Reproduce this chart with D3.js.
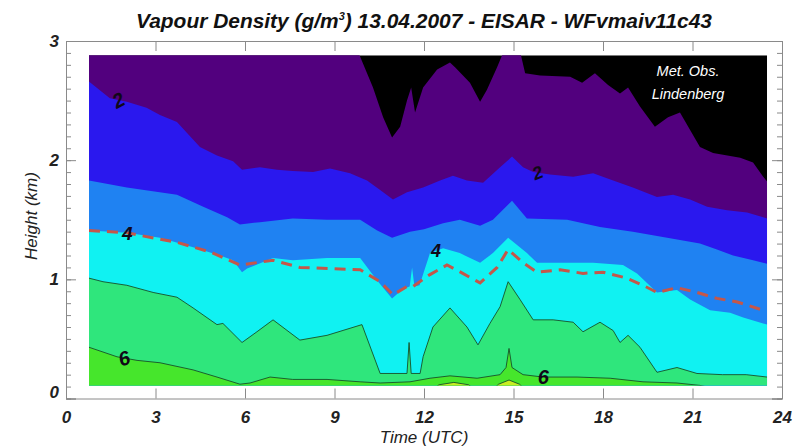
<!DOCTYPE html>
<html>
<head>
<meta charset="utf-8">
<script src="https://cdn.jsdelivr.net/npm/d3@7"></script>
<style>
  html, body { margin: 0; padding: 0; background: #fff; }
  svg { display: block; }
  .narrow { font-family: "Liberation Sans Narrow", "Arial Narrow", "Liberation Sans", sans-serif; }
</style>
</head>
<body>
<svg id="chart" width="800" height="446"></svg>
<script>
// Vapour density contours, time (UTC) vs height (km).
// Each contour is given as [time h, height km] pairs where the density equals its level.
const levels = [1, 2, 3, 4, 5, 6, 7];

const contour1 = [[0.77,3.05],[9.6,3.05],[9.79,2.91],[10.29,2.61],[10.63,2.36],[10.93,2.19],[11.2,2.28],[11.43,2.50],[11.57,2.61],[11.70,2.40],[11.97,2.61],[12.44,2.76],[12.87,2.82],[13.04,2.78],[13.54,2.65],[13.88,2.49],[14.11,2.59],[14.45,2.78],[14.65,2.9],[14.8,3.0],[15.1,3.0],[15.25,2.88],[15.39,2.73],[15.89,2.71],[16.9,2.70],[17.3,2.65],[17.73,2.73],[18.17,2.63],[18.57,2.56],[18.84,2.61],[19.24,2.45],[19.74,2.28],[20.18,2.36],[20.58,2.40],[21.25,2.11],[21.69,2.06],[22.6,2.02],[23.03,1.98],[23.37,1.86],[23.5,1.82]];

const contour2 = [[0.77,2.66],[1.47,2.52],[2.04,2.49],[2.7,2.44],[3.15,2.38],[3.72,2.32],[4.05,2.23],[4.49,2.11],[5.06,2.04],[5.6,1.99],[5.9,1.92],[6.5,1.94],[7.07,1.92],[7.6,1.91],[8.28,1.90],[8.85,1.93],[9.52,1.89],[10.09,1.83],[10.53,1.75],[10.96,1.67],[11.43,1.73],[11.97,1.77],[12.54,1.83],[12.97,1.87],[13.44,1.83],[13.98,1.81],[14.55,1.94],[14.95,2.03],[15.32,1.94],[15.66,1.90],[16.22,1.88],[17.0,1.86],[17.67,1.89],[18.34,1.83],[19.0,1.77],[19.81,1.69],[20.35,1.71],[20.92,1.67],[21.49,1.61],[22.16,1.58],[22.83,1.56],[23.37,1.52],[23.5,1.51]];

const contour3 = [[0.77,1.83],[2.04,1.77],[3.72,1.71],[4.6,1.61],[5.4,1.52],[5.83,1.46],[6.5,1.48],[7.6,1.51],[8.75,1.50],[9.86,1.50],[10.43,1.41],[10.93,1.35],[11.53,1.40],[12.0,1.42],[12.64,1.47],[13.2,1.50],[13.88,1.45],[14.31,1.50],[14.95,1.66],[15.45,1.51],[16.8,1.50],[17.9,1.44],[19.0,1.40],[20.15,1.35],[21.25,1.30],[21.82,1.25],[22.36,1.20],[23.03,1.16],[23.5,1.13]];

const contour4 = [[0.77,1.41],[2.04,1.39],[3.15,1.35],[4.26,1.27],[5.16,1.20],[5.6,1.16],[5.9,1.06],[6.07,1.09],[6.94,1.18],[7.6,1.16],[8.75,1.18],[9.86,1.18],[10.43,0.99],[10.93,0.84],[11.3,0.92],[11.52,0.94],[11.6,1.10],[11.68,0.94],[11.85,0.95],[12.2,1.22],[12.64,1.26],[13.2,1.22],[13.88,1.14],[14.31,1.22],[14.82,1.35],[15.45,1.22],[15.79,1.14],[16.56,1.14],[17.67,1.14],[18.67,1.12],[19.14,1.05],[19.81,0.89],[20.48,0.91],[20.92,0.83],[21.59,0.74],[22.26,0.72],[22.7,0.68],[23.37,0.63],[23.5,0.62]];

const contour5 = [[0.77,1.01],[1.24,0.98],[2.04,0.95],[2.92,0.89],[3.72,0.85],[4.26,0.76],[5.06,0.62],[5.26,0.63],[5.9,0.47],[6.4,0.56],[6.94,0.66],[7.84,0.49],[8.75,0.53],[9.92,0.62],[10.53,0.21],[11.43,0.21],[11.5,0.47],[11.57,0.21],[11.87,0.21],[11.97,0.35],[12.3,0.60],[12.87,0.76],[13.44,0.60],[13.81,0.45],[14.21,0.63],[14.55,0.77],[14.82,0.98],[15.22,0.83],[15.66,0.66],[16.33,0.66],[17.0,0.64],[17.33,0.56],[17.9,0.64],[18.34,0.57],[18.57,0.47],[18.84,0.53],[19.24,0.43],[19.81,0.22],[20.48,0.26],[21.15,0.21],[22.0,0.20],[22.8,0.20],[23.5,0.18]];

const contour6 = [[0.77,0.43],[1.24,0.39],[1.71,0.35],[2.38,0.32],[3.15,0.30],[4.26,0.24],[5.06,0.18],[5.83,0.12],[6.17,0.13],[6.84,0.18],[7.6,0.16],[8.75,0.16],[9.86,0.14],[10.53,0.13],[11.53,0.14],[12.2,0.17],[12.87,0.19],[13.78,0.17],[14.55,0.20],[14.75,0.26],[14.85,0.42],[14.95,0.26],[15.32,0.20],[15.99,0.18],[17.13,0.18],[18.24,0.17],[19.34,0.14],[20.48,0.13],[21.25,0.11],[21.6,0.09],[23.5,0.08]];

const contour7 = [[0.77,0.05],[12.2,0.05],[12.5,0.115],[13.0,0.135],[13.5,0.115],[13.8,0.05],[14.2,0.05],[14.5,0.12],[14.85,0.155],[15.2,0.12],[15.5,0.05],[23.5,0.05]];

// Mixing-layer height (km)
const mixingHeight = [[0.77,1.41],[2.04,1.39],[3.72,1.31],[4.83,1.23],[5.83,1.12],[6.94,1.16],[7.84,1.10],[8.95,1.09],[9.86,1.08],[10.53,0.98],[10.96,0.87],[11.43,0.94],[11.63,0.94],[12.2,1.04],[12.77,1.12],[13.3,1.05],[13.88,0.97],[14.45,1.10],[14.82,1.25],[15.32,1.14],[15.79,1.06],[16.56,1.08],[17.33,1.05],[18.0,1.06],[18.8,1.01],[19.34,0.95],[19.81,0.89],[20.48,0.93],[21.15,0.89],[21.82,0.84],[22.5,0.81],[23.37,0.74]];

// Observed window
const timeRange = [0.77, 23.5];
const heightRange = [0.11, 2.88];

// Contour labels: level and the time at which it is written on its line
const contourLabels = [
  { level: 2, time: 1.75, angle: -28, size: 20 },
  { level: 2, time: 15.8, angle: -22, size: 18 },
  { level: 4, time: 2.05, angle: 0, size: 19 },
  { level: 4, time: 12.4, angle: 0, size: 18 },
  { level: 6, time: 1.95, angle: -18, size: 20 },
  { level: 6, time: 16.0, angle: 0, size: 20 }
];

const xTicks = [0, 3, 6, 9, 12, 15, 18, 21, 24];
const yTicks = [0, 1, 2, 3];
const yMinorTicks = d3.range(0, 3.001, 0.1).map(v => +v.toFixed(1));

const titleMain = "Vapour Density (g/m";
const titleSup = "3";
const titleRest = ") 13.04.2007 - EISAR - WFvmaiv11c43";
const stationLines = ["Met. Obs.", "Lindenberg"];

// Fill colours for the region below each contour (denser side), plus the < 1 region
const belowColor = "#000000";
const levelColors = ["#52007e", "#2a18ee", "#1f82f2", "#10f2f2", "#2fe67c", "#46e62c", "#c6ee22"];

const contours = [contour1, contour2, contour3, contour4, contour5, contour6, contour7];

const svg = d3.select("#chart");
const x = d3.scaleLinear().domain([0, 24]).range([66, 782]);
const y = d3.scaleLinear().domain([0, 3]).range([398.5, 41]);

// Clip to the observed window
svg.append("defs").append("clipPath").attr("id", "obs")
  .append("rect")
  .attr("x", x(timeRange[0])).attr("y", y(heightRange[1]))
  .attr("width", x(timeRange[1]) - x(timeRange[0]))
  .attr("height", y(heightRange[0]) - y(heightRange[1]));

const plot = svg.append("g").attr("clip-path", "url(#obs)");

plot.append("rect")
  .attr("x", x(timeRange[0])).attr("y", y(heightRange[1]))
  .attr("width", x(timeRange[1]) - x(timeRange[0]))
  .attr("height", y(heightRange[0]) - y(heightRange[1]))
  .attr("fill", belowColor);

const area = d3.area()
  .x(d => x(d[0]))
  .y0(y(0))
  .y1(d => y(d[1]));

contours.forEach((c, i) => {
  plot.append("path").datum(c).attr("d", area).attr("fill", levelColors[i]);
});

// Thin contour lines in the moist layers
const line = d3.line().x(d => x(d[0])).y(d => y(d[1]));
[contour5, contour6, contour7].forEach(c => {
  plot.append("path").datum(c).attr("d", line)
    .attr("fill", "none").attr("stroke", "#17502a").attr("stroke-width", 0.9);
});

// Mixing-layer height
plot.append("path").datum(mixingHeight).attr("d", line)
  .attr("fill", "none").attr("stroke", "#c4574a").attr("stroke-width", 3)
  .attr("stroke-dasharray", "11,7").attr("stroke-linecap", "butt");

// Contour labels placed on their lines
function heightAt(c, t) {
  for (let i = 1; i < c.length; i++) {
    if (t <= c[i][0]) {
      const [t0, h0] = c[i - 1], [t1, h1] = c[i];
      return h0 + (h1 - h0) * (t - t0) / (t1 - t0);
    }
  }
  return c[c.length - 1][1];
}
contourLabels.forEach(l => {
  const c = contours[levels.indexOf(l.level)];
  const px = x(l.time), py = y(heightAt(c, l.time));
  svg.append("text")
    .attr("transform", `translate(${px},${py}) rotate(${l.angle})`)
    .attr("text-anchor", "middle").attr("dy", "0.36em")
    .attr("font-family", "'Liberation Sans', Arial, sans-serif")
    .attr("font-style", "italic").attr("font-weight", "bold")
    .attr("font-size", l.size).attr("fill", "#100818")
    .text(l.level);
});

// Station name
stationLines.forEach((s, i) => {
  svg.append("text")
    .attr("x", 688).attr("y", 76 + i * 23)
    .attr("text-anchor", "middle")
    .attr("font-family", "'Liberation Sans', Arial, sans-serif")
    .attr("font-style", "italic").attr("font-size", 14.5)
    .attr("fill", "#ffffff")
    .text(s);
});

// Axes frame with inward ticks
const frameColor = "#8a8a8a";
function styleAxis(g, labels) {
  g.select(".domain").attr("stroke", frameColor);
  g.selectAll(".tick line").attr("stroke", frameColor);
  g.selectAll(".tick text")
    .attr("class", "narrow")
    .attr("font-style", "italic").attr("font-weight", "bold")
    .attr("font-size", 17).attr("fill", "#222")
    .style("display", labels ? null : "none");
}

svg.append("g").attr("transform", `translate(0,${y(0)})`)
  .call(d3.axisBottom(x).tickValues(xTicks).tickSize(-10).tickPadding(12).tickFormat(d3.format("d")))
  .call(g => styleAxis(g, true));
svg.append("g").attr("transform", `translate(0,${y(3)})`)
  .call(d3.axisTop(x).tickValues(xTicks).tickSize(-10).tickFormat(""))
  .call(g => styleAxis(g, false));

svg.append("g").attr("transform", `translate(${x(0)},0)`)
  .call(d3.axisLeft(y).tickValues(yMinorTicks).tickSize(-5).tickFormat(""))
  .call(g => styleAxis(g, false));
svg.append("g").attr("transform", `translate(${x(0)},0)`)
  .call(d3.axisLeft(y).tickValues(yTicks).tickSize(-10).tickPadding(7).tickFormat(d3.format("d")))
  .call(g => styleAxis(g, true))
  .call(g => g.selectAll(".tick text").filter(d => d === 0).attr("dy", "-0.05em"));
svg.append("g").attr("transform", `translate(${x(24)},0)`)
  .call(d3.axisRight(y).tickValues(yMinorTicks).tickSize(-5).tickFormat(""))
  .call(g => styleAxis(g, false));
svg.append("g").attr("transform", `translate(${x(24)},0)`)
  .call(d3.axisRight(y).tickValues(yTicks).tickSize(-10).tickFormat(""))
  .call(g => styleAxis(g, false));

// Axis titles
svg.append("text")
  .attr("class", "narrow")
  .attr("x", 424).attr("y", 443)
  .attr("text-anchor", "middle")
  .attr("font-style", "italic").attr("font-size", 17).attr("fill", "#222")
  .text("Time (UTC)");
svg.append("text")
  .attr("class", "narrow")
  .attr("transform", "translate(37,216) rotate(-90)")
  .attr("text-anchor", "middle")
  .attr("font-style", "italic").attr("font-size", 17).attr("fill", "#222")
  .text("Height (km)");

// Title
const title = svg.append("text")
  .attr("class", "narrow")
  .attr("x", 424).attr("y", 28)
  .attr("text-anchor", "middle")
  .attr("font-style", "italic").attr("font-weight", "bold")
  .attr("font-size", 21).attr("fill", "#111")
  .attr("textLength", 576).attr("lengthAdjust", "spacingAndGlyphs");
title.append("tspan").text(titleMain);
title.append("tspan").attr("font-size", 11).attr("dy", -8).text(titleSup);
title.append("tspan").attr("dy", 8).text(titleRest);
</script>
</body>
</html>
